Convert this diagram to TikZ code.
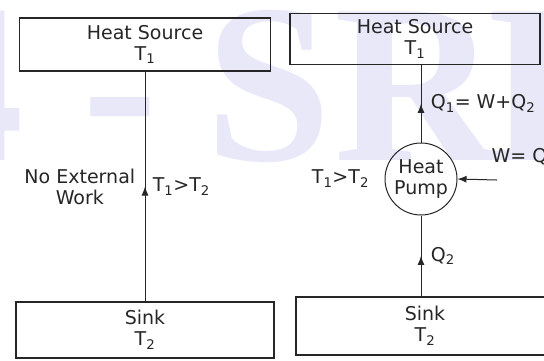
\documentclass[tikz,border=0pt]{standalone}
\usepackage{fontspec}
\setmainfont{DejaVu Sans}
\newfontfamily\markfont{Liberation Serif}
\usepackage{tikz}
\usetikzlibrary{calc,positioning,arrows.meta,decorations.markings}
\definecolor{inkdark}{HTML}{262626}
\definecolor{marktint}{HTML}{E8E8F8}

\begin{document}
\begin{tikzpicture}[x=1pt,y=-1pt,
    box/.style={draw=inkdark,line width=1.3pt,rectangle,align=center,font=\fontsize{19}{21}\selectfont,text=inkdark},
    pumpnode/.style={draw=inkdark,line width=1pt,circle,minimum size=72pt,inner sep=0pt,align=center,font=\fontsize{19}{21}\selectfont,text=inkdark},
    lbl/.style={font=\fontsize{19}{21}\selectfont,text=inkdark,align=center},
    flow/.style={draw=inkdark,line width=1pt,postaction={decorate},
      decoration={markings,mark=at position 0.5 with {\arrow{Latex[length=9pt,width=7pt]}}}},
    wmark/.style={font=\markfont\bfseries\fontsize{227}{227}\selectfont,text=marktint,inner sep=0pt}]
    \useasboundingbox (0,0) rectangle (544,360);
    % watermark behind the drawing
    \node[wmark,anchor=base east] (wm4) at (24,160) {4};
    \node[wmark,anchor=base west] (wmdash) at (82,160) {-};
    \node[wmark,anchor=base west] (wmS) at (205,160) {S};
    \node[wmark,anchor=base west] (wmR) at (334,160) {R};
    \node[wmark,anchor=base west] (wmI) at (484,160) {I};

    % left: no external work
    \node[box,minimum width=251pt,minimum height=53pt] (lsrc) at (145,44.5) {Heat Source\\T\textsubscript{1}};
    \node[box,minimum width=258pt,minimum height=56pt] (lsink) at (145,330) {Sink\\T\textsubscript{2}};
    \draw[flow] (lsink.north) -- node[lbl,right=4pt] {T\textsubscript{1}>T\textsubscript{2}}
      node[lbl,left=6pt] {No External\\Work} (lsrc.south);

    % right: heat pump
    \node[box,minimum width=250pt,minimum height=51pt] (rsrc) at (415,39) {Heat Source\\T\textsubscript{1}};
    \node[box,minimum width=258pt,minimum height=58pt] (rsink) at (425,326) {Sink\\T\textsubscript{2}};
    \node[pumpnode] (pump) at (421,179) {Heat\\Pump};
    \node[lbl,left=12pt of pump] (ttag) {T\textsubscript{1}>T\textsubscript{2}};
    \coordinate (wstart) at (497,180);
    \draw[flow] (pump.north) -- node[lbl,right=6pt] {Q\textsubscript{1}= W+Q\textsubscript{2}} (pump.north |- rsrc.south);
    \draw[flow] (pump.south |- rsink.north) -- node[lbl,right=6pt] {Q\textsubscript{2}} (pump.south);
    \draw[draw=inkdark,line width=1pt,-{Latex[length=9pt,width=7pt]}] (wstart) -- (pump.east);
    \node[lbl,anchor=west] (wlab) at (488,157) {W= Q\textsubscript{1} -- Q\textsubscript{2}};
\end{tikzpicture}
\end{document}
